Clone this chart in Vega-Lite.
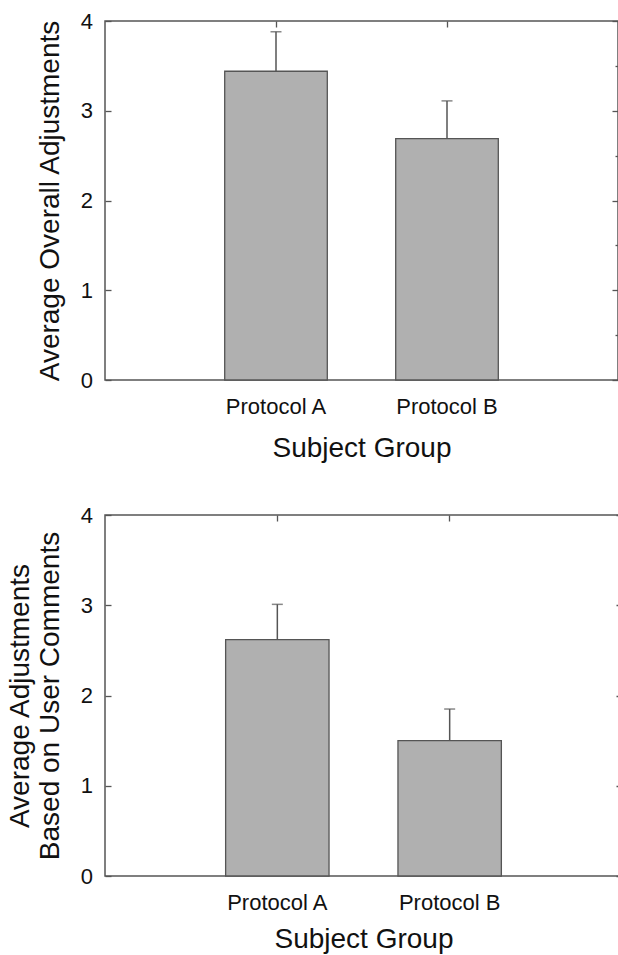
{
  "$schema": "https://vega.github.io/schema/vega-lite/v6.json",
  "padding": {"left": 5, "top": 9, "right": 0, "bottom": 0},
  "autosize": {"type": "pad"},
  "spacing": 40,
  "config": {
    "view": {"stroke": "#555555", "strokeWidth": 1.5},
    "font": "Liberation Sans",
    "axis": {
      "domain": false,
      "grid": false,
      "labelColor": "#111111",
      "titleColor": "#111111",
      "labelFont": "Liberation Sans",
      "titleFont": "Liberation Sans",
      "titleFontWeight": "normal",
      "tickColor": "#555555",
      "tickWidth": 1.3
    }
  },
  "vconcat": [
    {
      "width": 513,
      "height": 359,
      "data": {"values": [
        {"group": "Protocol A", "mean": 3.44, "upper": 3.88},
        {"group": "Protocol B", "mean": 2.69, "upper": 3.11}
      ]},
      "resolve": {"axis": {"x": "independent", "y": "independent"}},
      "layer": [
        {
          "mark": {"type": "bar", "fill": "#b0b0b0", "stroke": "#555555", "strokeWidth": 1.3},
          "encoding": {
            "x": {"field": "group", "type": "nominal", "sort": null,
              "scale": {"paddingInner": 0.4, "paddingOuter": 0.7},
              "axis": {"orient": "bottom", "title": "Subject Group", "ticks": false, "labelAngle": 0,
                "labelPadding": 16, "labelFontSize": 22, "titleFontSize": 28, "titlePadding": 17}},
            "y": {"field": "mean", "type": "quantitative", "scale": {"domain": [0, 4]},
              "axis": {"orient": "left", "values": [0, 0.5, 1, 1.5, 2, 2.5, 3, 3.5, 4], "format": "d",
                "labelExpr": "datum.value % 1 === 0 ? datum.label : ''",
                "tickSize": {"condition": {"test": "datum.value % 1 === 0", "value": -6}, "value": -3},
                "labelPadding": 18.5, "labelFontSize": 22,
                "title": "Average Overall Adjustments", "titleFontSize": 28, "titlePadding": 16}}
          }
        },
        {
          "mark": {"type": "rule", "stroke": "#555555", "strokeWidth": 1.5},
          "encoding": {
            "x": {"field": "group", "type": "nominal", "sort": null,
              "axis": {"orient": "top", "labels": false, "title": null, "tickSize": -6}},
            "y": {"field": "mean", "type": "quantitative", "axis": null},
            "y2": {"field": "upper"}
          }
        },
        {
          "mark": {"type": "tick", "orient": "horizontal", "size": 11, "thickness": 1.5, "color": "#555555"},
          "encoding": {
            "x": {"field": "group", "type": "nominal", "sort": null, "axis": null},
            "y": {"field": "upper", "type": "quantitative",
              "axis": {"orient": "right", "values": [0, 0.5, 1, 1.5, 2, 2.5, 3, 3.5, 4], "labels": false, "title": null,
                "tickSize": {"condition": {"test": "datum.value % 1 === 0", "value": -6}, "value": -3}}}
          }
        }
      ]
    },
    {
      "width": 517,
      "height": 361,
      "data": {"values": [
        {"group": "Protocol A", "mean": 2.62, "upper": 3.01},
        {"group": "Protocol B", "mean": 1.5, "upper": 1.85}
      ]},
      "resolve": {"axis": {"x": "independent", "y": "independent"}},
      "layer": [
        {
          "mark": {"type": "bar", "fill": "#b0b0b0", "stroke": "#555555", "strokeWidth": 1.3},
          "encoding": {
            "x": {"field": "group", "type": "nominal", "sort": null,
              "scale": {"paddingInner": 0.4, "paddingOuter": 0.7},
              "axis": {"orient": "bottom", "title": "Subject Group", "ticks": false, "labelAngle": 0,
                "labelPadding": 16, "labelFontSize": 22, "titleFontSize": 28, "titlePadding": 12}},
            "y": {"field": "mean", "type": "quantitative", "scale": {"domain": [0, 4]},
              "axis": {"orient": "left", "values": [0, 0.5, 1, 1.5, 2, 2.5, 3, 3.5, 4], "format": "d",
                "labelExpr": "datum.value % 1 === 0 ? datum.label : ''",
                "tickSize": {"condition": {"test": "datum.value % 1 === 0", "value": -6}, "value": -3},
                "labelPadding": 18.5, "labelFontSize": 22,
                "title": ["Average Adjustments", "Based on User Comments"], "titleFontSize": 28,
                "titleLineHeight": 30, "titlePadding": 16}}
          }
        },
        {
          "mark": {"type": "rule", "stroke": "#555555", "strokeWidth": 1.5},
          "encoding": {
            "x": {"field": "group", "type": "nominal", "sort": null,
              "axis": {"orient": "top", "labels": false, "title": null, "tickSize": -6}},
            "y": {"field": "mean", "type": "quantitative", "axis": null},
            "y2": {"field": "upper"}
          }
        },
        {
          "mark": {"type": "tick", "orient": "horizontal", "size": 11, "thickness": 1.5, "color": "#555555"},
          "encoding": {
            "x": {"field": "group", "type": "nominal", "sort": null, "axis": null},
            "y": {"field": "upper", "type": "quantitative",
              "axis": {"orient": "right", "values": [0, 0.5, 1, 1.5, 2, 2.5, 3, 3.5, 4], "labels": false, "title": null,
                "tickSize": {"condition": {"test": "datum.value % 1 === 0", "value": -6}, "value": -3}}}
          }
        }
      ]
    }
  ]
}
